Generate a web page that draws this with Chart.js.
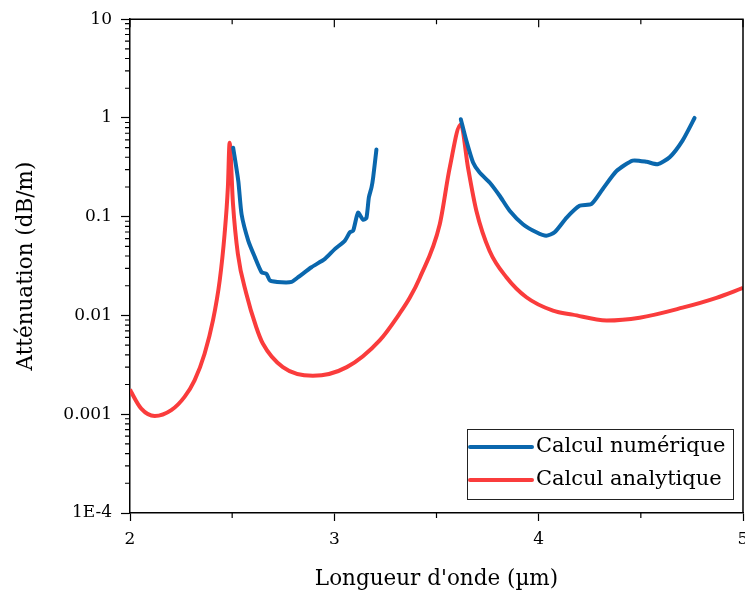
<!DOCTYPE html>
<html lang="fr">
<head>
<meta charset="UTF-8">
<title>Atténuation</title>
<script src="https://cdn.jsdelivr.net/npm/chart.js"></script>
<style>
  html, body { margin: 0; padding: 0; background: #fff; }
  .chart-container { position: relative; width: 745px; height: 596px; }
</style>
</head>
<body>
<div class="chart-container">
  <canvas id="attChart" width="745" height="596"></canvas>
</div>
<script>
// Calcul numérique, première bande
const numX1 = [2.505, 2.53, 2.546, 2.579, 2.611, 2.644, 2.668, 2.685, 2.742, 2.791, 2.823, 2.888, 2.954, 3.002, 3.051, 3.076, 3.092, 3.116, 3.141, 3.157, 3.169, 3.182, 3.19, 3.206];
const numY1 = [0.50, 0.23, 0.106, 0.057, 0.039, 0.0274, 0.0264, 0.0226, 0.0217, 0.0219, 0.0244, 0.0308, 0.0374, 0.047, 0.057, 0.0695, 0.072, 0.11, 0.093, 0.097, 0.157, 0.198, 0.25, 0.48];
// Calcul numérique, deuxième bande
const numX2 = [3.619, 3.646, 3.679, 3.711, 3.76, 3.809, 3.858, 3.923, 3.989, 4.037, 4.078, 4.137, 4.20, 4.259, 4.313, 4.381, 4.46, 4.528, 4.582, 4.641, 4.704, 4.763];
const numY2 = [0.97, 0.59, 0.354, 0.28, 0.222, 0.163, 0.115, 0.084, 0.0695, 0.064, 0.0695, 0.098, 0.129, 0.135, 0.19, 0.29, 0.37, 0.36, 0.34, 0.40, 0.59, 1.0];
// Calcul analytique
const anaX = [2.0, 2.006, 2.055, 2.121, 2.202, 2.267, 2.316, 2.365, 2.406, 2.439, 2.463, 2.479, 2.4875, 2.504, 2.528, 2.569, 2.618, 2.65, 2.748, 2.895, 3.061, 3.222, 3.32, 3.369, 3.418, 3.516, 3.565, 3.619, 3.654, 3.695, 3.76, 3.842, 3.94, 4.07, 4.166, 4.333, 4.494, 4.704, 4.87, 5.0];
const anaY = [0.00178, 0.00168, 0.00114, 0.00096, 0.0011, 0.0015, 0.0022, 0.0041, 0.0089, 0.0226, 0.067, 0.198, 0.56, 0.135, 0.042, 0.0167, 0.0076, 0.0052, 0.0030, 0.00245, 0.0030, 0.0056, 0.0105, 0.0151, 0.024, 0.084, 0.316, 0.86, 0.316, 0.115, 0.045, 0.0244, 0.0153, 0.0112, 0.0102, 0.0089, 0.0095, 0.012, 0.0151, 0.019];

const seriesLabels = ['Calcul numérique', 'Calcul analytique'];
const xMajorTicks = [2, 3, 4, 5];
const xMinorTicks = [2.5, 3.5, 4.5];
const yMajorTicks = [10, 1, 0.1, 0.01, 0.001, 0.0001];
const yTickLabels = ['10', '1', '0.1', '0.01', '0.001', '1E-4'];

const blueColor = '#0a67ad';
const redColor = '#fa3c3c';
const FONT = '"DejaVu Serif", serif';

const pts = (xs, ys) => xs.map((x, i) => ({ x: x, y: ys[i] }));
const numData = pts(numX1, numY1).concat([{ x: 3.4, y: null }], pts(numX2, numY2));

// cadre, petites graduations et légende
const extras = {
  id: 'extras',
  afterDraw(chart) {
    const c = chart.ctx;
    const a = chart.chartArea;
    const xs = chart.scales.x;
    const ys = chart.scales.y;
    c.save();
    c.strokeStyle = '#000';
    c.lineWidth = 1.5;
    c.beginPath();
    c.moveTo(a.left, a.top); c.lineTo(a.right, a.top); c.lineTo(a.right, a.bottom);
    c.stroke();
    c.lineWidth = 1.2;
    c.beginPath();
    xMinorTicks.forEach(v => {
      const px = xs.getPixelForValue(v);
      c.moveTo(px, a.bottom); c.lineTo(px, a.bottom + 5);
      c.moveTo(px, a.top); c.lineTo(px, a.top + 5);
    });
    xMajorTicks.forEach(v => {
      const px = xs.getPixelForValue(v);
      c.moveTo(px, a.top); c.lineTo(px, a.top + 8);
    });
    for (let e = -4; e < 1; e++) {
      for (let m = 2; m <= 9; m++) {
        const py = ys.getPixelForValue(m * Math.pow(10, e));
        c.moveTo(a.left, py); c.lineTo(a.left - 5, py);
      }
    }
    c.stroke();

    // légende
    const lx = 467, ly = 429, lw = 266, lh = 70;
    c.lineWidth = 1;
    c.strokeStyle = '#222';
    c.fillStyle = '#fff';
    c.fillRect(lx, ly, lw, lh);
    c.strokeRect(lx + 0.5, ly + 0.5, lw, lh);
    const colors = [blueColor, redColor];
    c.font = '21px ' + FONT;
    c.textBaseline = 'middle';
    seriesLabels.forEach((lab, i) => {
      const yy = ly + 18 + i * 33;
      c.strokeStyle = colors[i];
      c.lineWidth = 4;
      c.lineCap = 'round';
      c.beginPath();
      c.moveTo(470, yy); c.lineTo(532, yy);
      c.stroke();
      c.fillStyle = '#000';
      c.fillText(lab, 536, yy);
    });
    c.restore();
  }
};

const ctx = document.getElementById('attChart').getContext('2d');
new Chart(ctx, {
  type: 'line',
  data: {
    datasets: [
      {
        label: seriesLabels[0],
        data: numData,
        borderColor: blueColor,
        borderWidth: 4,
        pointRadius: 0,
        fill: false,
        tension: 0.2,
        spanGaps: false,
        borderCapStyle: 'round'
      },
      {
        label: seriesLabels[1],
        data: pts(anaX, anaY),
        borderColor: redColor,
        borderWidth: 4,
        pointRadius: 0,
        fill: false,
        cubicInterpolationMode: 'monotone'
      }
    ]
  },
  options: {
    responsive: false,
    animation: false,
    devicePixelRatio: 1,
    layout: { padding: { top: 18, right: 2, left: 0, bottom: 0 } },
    plugins: { legend: { display: false }, tooltip: { enabled: false } },
    scales: {
      x: {
        type: 'linear',
        min: 2,
        max: 5,
        afterBuildTicks: s => { s.ticks = xMajorTicks.map(v => ({ value: v })); },
        afterFit: s => { s.height = 83; s.paddingRight = 0; s.paddingLeft = 0; },
        ticks: { color: '#000', font: { family: FONT, size: 17 }, padding: 8, maxRotation: 0, autoSkip: false },
        grid: { drawOnChartArea: false, tickLength: 8, tickWidth: 1.2, color: '#000' },
        border: { color: '#000', width: 1.5 },
        title: { display: true, text: "Longueur d'onde (µm)", color: '#000', font: { family: FONT, size: 21.5 }, padding: { top: 6 } }
      },
      y: {
        type: 'logarithmic',
        min: 0.0001,
        max: 10,
        afterBuildTicks: s => { s.ticks = yMajorTicks.map(v => ({ value: v })); },
        afterFit: s => { s.width = 130; },
        ticks: {
          color: '#000',
          font: { family: FONT, size: 17 },
          padding: 9,
          autoSkip: false,
          callback: v => {
            const i = yMajorTicks.findIndex(t => Math.abs(Math.log10(t) - Math.log10(v)) < 1e-6);
            return i >= 0 ? yTickLabels[i] : '';
          }
        },
        grid: { drawOnChartArea: false, tickLength: 9, tickWidth: 1.2, color: '#000' },
        border: { color: '#000', width: 1.5 },
        title: { display: true, text: 'Atténuation (dB/m)', color: '#000', font: { family: FONT, size: 21.5 }, padding: { top: 14, bottom: 0 } }
      }
    }
  },
  plugins: [extras]
});
</script>
</body>
</html>
